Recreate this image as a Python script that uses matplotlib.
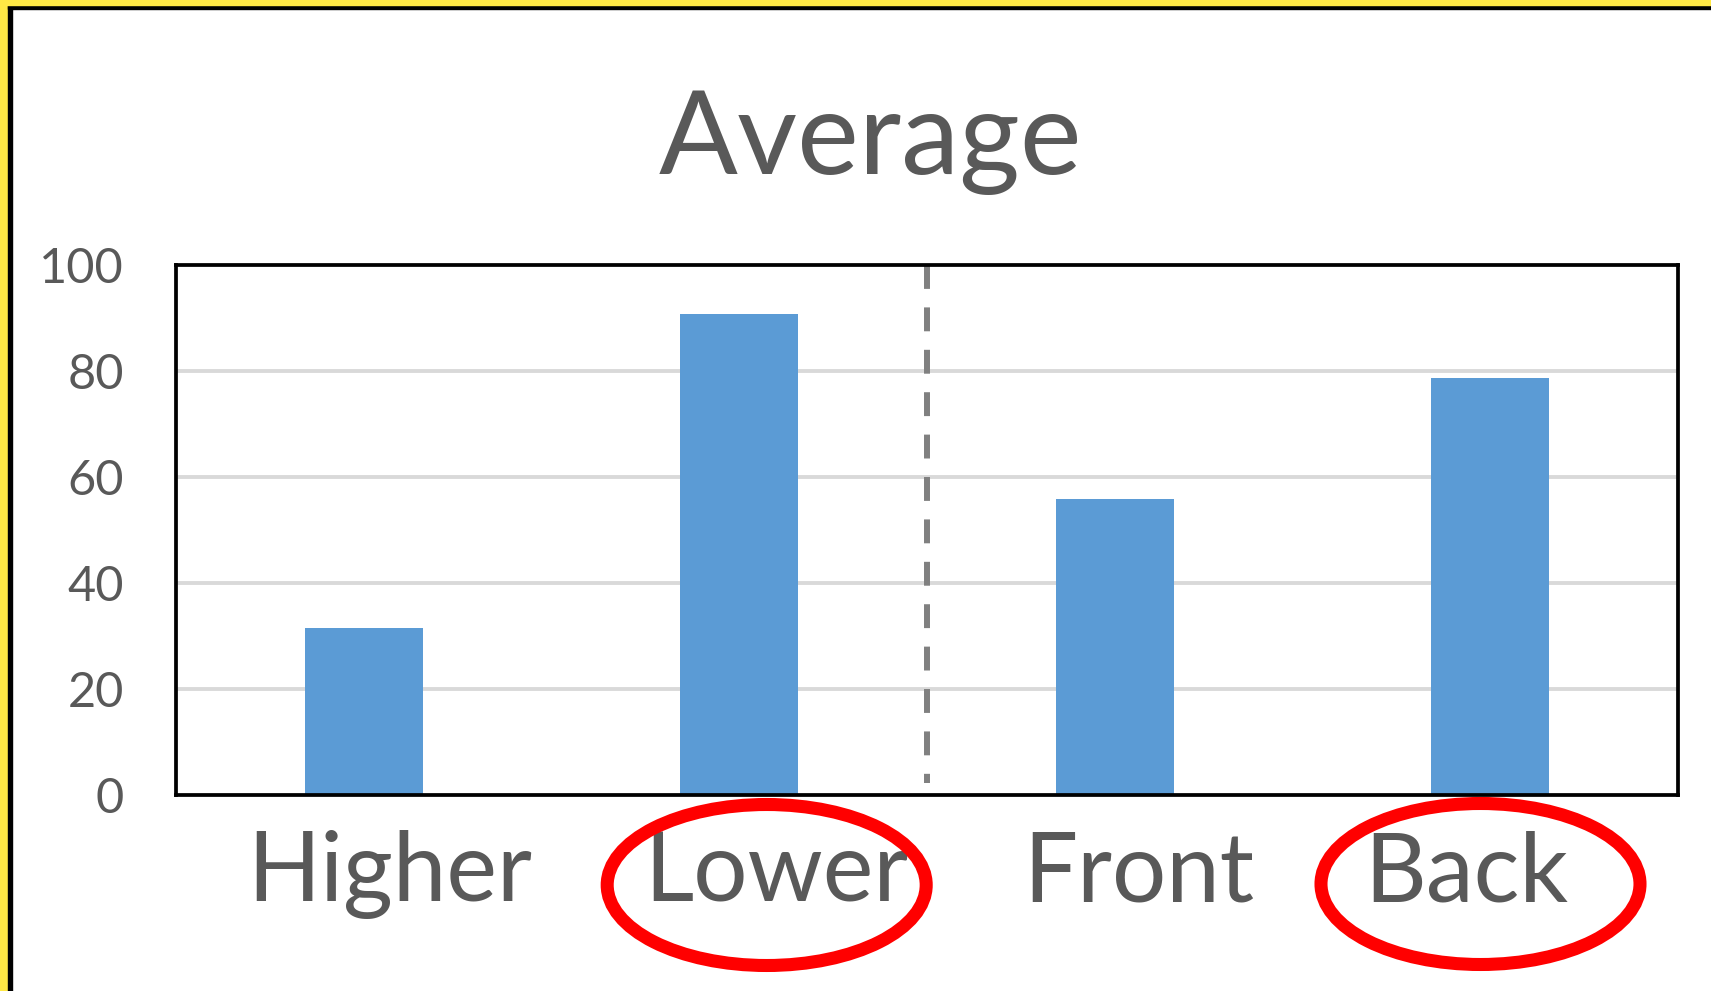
import matplotlib
matplotlib.use("Agg")
import matplotlib.pyplot as plt
from matplotlib.patches import Rectangle, Ellipse

# ---- data ----
categories = ["Higher", "Lower", "Front", "Back"]
values = [31.6, 90.8, 55.9, 78.6]
yticks = [0, 20, 40, 60, 80, 100]
title = "Average"
highlighted = ["Lower", "Back"]

W, H = 1711, 991
fig = plt.figure(figsize=(W / 100, H / 100), dpi=100)
fig.patch.set_facecolor("white")

FONT = "Lato"
TXT = "#595959"

def fx(px):
    return px / W

def fy(py):
    return 1 - py / H

ax = fig.add_axes([fx(176), fy(795), fx(1678) - fx(176), fy(265) - fy(795)])
x = list(range(len(categories)))
ax.bar(x, values, width=0.314, color="#5B9BD5", zorder=3)
ax.set_xlim(-0.5, len(categories) - 0.5)
ax.set_ylim(0, 100)
ax.set_yticks(yticks)
ax.set_yticklabels([str(t) for t in yticks], fontsize=35, color=TXT, family=FONT)
ax.tick_params(axis="y", length=0, pad=37.5)
ax.set_xticks([])
for t in yticks[1:-1]:
    ax.axhline(t, color="#D9D9D9", lw=2.8, zorder=1)
for s in ax.spines.values():
    s.set_linewidth(2.7)
    s.set_color("black")
    s.set_zorder(5)

# dashed separator between the two groups
ax.plot([1.5, 1.5], [100, 2.3], color="#808080", lw=4.3,
        linestyle=(0, (4, 3.1)), dash_capstyle="butt", zorder=4)

# title
fig.text(fx(870), fy(174), title, ha="center", va="baseline",
         fontsize=84, color=TXT, family=FONT)

# category labels (placed as in the original)
label_px = [390, 776, 1139, 1466]
for name, px in zip(categories, label_px):
    fig.text(fx(px), fy(901), name, ha="center", va="baseline",
             fontsize=69, color=TXT, family=FONT)

# red ellipses around highlighted labels
ell_centers = {"Lower": (766.7, 885), "Back": (1480.5, 884)}
for name in highlighted:
    cx, cy = ell_centers[name]
    e = Ellipse((fx(cx), fy(cy)), 319 / W, 161 / H, transform=fig.transFigure,
                fill=False, edgecolor="#FF0000", lw=9.4, zorder=10)
    fig.patches.append(e)

# yellow/black frame on left and top edges
fig.patches.append(Rectangle((0, 0), fx(7.5), 1, transform=fig.transFigure,
                             color="#FFE845", zorder=20))
fig.patches.append(Rectangle((fx(7.5), 0), fx(4.8), 1 - 5 / H, transform=fig.transFigure,
                             color="black", zorder=20))
fig.patches.append(Rectangle((0, fy(5)), 1, 5 / H, transform=fig.transFigure,
                             color="#FFE845", zorder=21))
fig.patches.append(Rectangle((fx(7.5), fy(9.2)), 1, 4.2 / H, transform=fig.transFigure,
                             color="black", zorder=20))

fig.savefig("out.png", dpi=100)
